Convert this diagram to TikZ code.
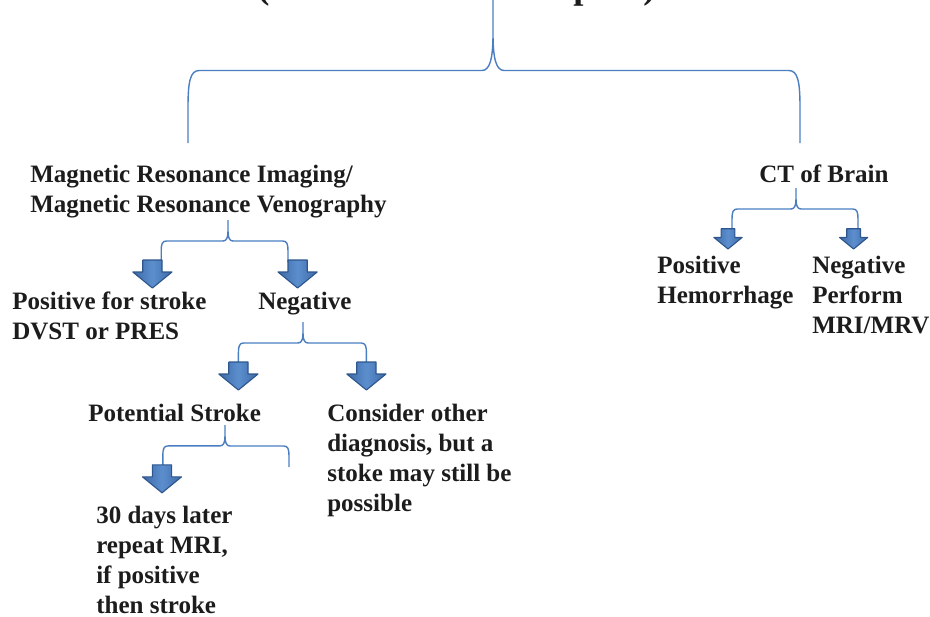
\documentclass[tikz,border=0pt]{standalone}
\usepackage{fontspec}
\setmainfont{Liberation Serif}
\usepackage{xcolor}
\usepackage{tikz}
\usetikzlibrary{
  calc
}
\definecolor{braceblue}{RGB}{74,126,193}
\definecolor{arrowlight}{RGB}{92,142,206}
\definecolor{arrowdark}{RGB}{62,106,166}
\definecolor{arrowline}{RGB}{46,86,140}
\definecolor{inkgray}{RGB}{28,28,28}

\begin{document}
\begin{tikzpicture}[
  font=\fontsize{17.8pt}{21.3pt}\selectfont\bfseries,
  txt/.style={anchor=base west, inner sep=0pt, align=left, text=inkgray},
  title/.style={txt, font=\fontsize{26pt}{30pt}\selectfont\bfseries},
  blk/.style={draw=arrowline, line width=0.8pt, line join=round,
              left color=arrowdark, right color=arrowdark, middle color=arrowlight},
  darrow/.pic={
    \coordinate (-top) at (0,0);
    \path[blk] (-0.24,0) -- (0.24,0) -- (0.24,-0.3) -- (0.49,-0.3)
      -- (0,-0.7) -- (-0.49,-0.3) -- (-0.24,-0.3) -- cycle;
  },
  brace/.style={draw=braceblue, line width=1pt},
  hb/.style 2 args={to path={let \p1=(\tikztostart), \p2=(\tikztotarget),
      \n1={sign(\x2-\x1)} in
      -- ({\x1},{\y1/2+\y2/2+#2})
      .. controls ({\x1},{\y1/2+\y2/2+0.3*#2}) and ({\x1+0.3*\n1*#1},{\y1/2+\y2/2})
      .. ({\x1+\n1*#1},{\y1/2+\y2/2})
      -- ({\x2-\n1*#1},{\y1/2+\y2/2})
      .. controls ({\x2-0.2*\n1*#1},{\y1/2+\y2/2}) and ({\x2},{\y1/2+\y2/2-0.3*#2})
      .. ({\x2},{\y1/2+\y2/2-#2})
      -- (\p2)}},
]
  \useasboundingbox (0,0) rectangle (23.25,-15.4);
  \clip (0,0) rectangle (23.25,-15.4);

  % heading, cut by the top edge
  \node[title] (tOpen) at (6.43,0.05) {(};
  \node[title] (tP) at (14.33,0.05) {p};
  \node[title] (tClose) at (16.08,0.05) {)};

  % main split
  \coordinate (topC) at (12.325,0.05);
  \coordinate (mriIn) at (4.7,-3.575);
  \coordinate (ctIn) at (20.0,-3.575);
  \draw[brace] (topC) to[hb={0.28cm}{0.92cm}] (mriIn)
               (topC) to[hb={0.28cm}{0.92cm}] (ctIn);

  % MRI / MRV branch
  \node[txt] (mri) at (0.75,-5.3)
    {Magnetic Resonance Imaging/\\Magnetic Resonance Venography};
  \coordinate (mriC) at (5.7,-5.5);
  \draw[brace] (mriC) to[hb={0.13cm}{0.25cm}] (4.03,-6.55)
               (mriC) to[hb={0.13cm}{0.25cm}] (7.2,-6.55);
  \pic (aPos) at (3.81,-6.5) {darrow};
  \pic (aNeg) at (7.44,-6.5) {darrow};
  \node[txt] (posStroke) at (0.30,-8.475) {Positive for stroke\\DVST or PRES};
  \node[txt] (neg) at (6.45,-7.725) {Negative};

  \coordinate (negC) at (7.575,-8.05);
  \draw[brace] (negC) to[hb={0.13cm}{0.25cm}] (5.96,-9.1)
               (negC) to[hb={0.13cm}{0.25cm}] (9.16,-9.1);
  \pic (aPot) at (5.96,-9.05) {darrow};
  \pic (aCon) at (9.16,-9.05) {darrow};
  \node[txt] (pot) at (2.2,-10.525) {Potential Stroke};
  \node[txt] (other) at (8.175,-12.775)
    {Consider other\\diagnosis, but a\\stoke may still be\\possible};

  \coordinate (potC) at (5.625,-10.625);
  \coordinate (potEnd) at (7.225,-11.675);
  \draw[brace] (potC) to[hb={0.13cm}{0.25cm}] (4.07,-11.67)
               (potC) to[hb={0.13cm}{0.25cm}] (potEnd);
  \pic (a30) at (4.05,-11.62) {darrow};
  \node[txt] (later) at (2.4,-15.325)
    {30 days later\\repeat MRI,\\if positive\\then stroke};

  % CT branch
  \node[txt] (ct) at (18.975,-4.55) {CT of Brain};
  \coordinate (ctC) at (19.9,-4.7);
  \draw[brace] (ctC) to[hb={0.13cm}{0.25cm}] (18.3,-5.75)
               (ctC) to[hb={0.13cm}{0.25cm}] (21.45,-5.75);
  \pic[scale=0.72] (aHem) at (18.2,-5.72) {darrow};
  \pic[scale=0.72] (aMrv) at (21.34,-5.72) {darrow};
  \node[txt] (hem) at (16.425,-7.575) {Positive\\Hemorrhage};
  \node[txt] (mrv) at (20.3,-8.325) {Negative\\Perform\\MRI/MRV};
\end{tikzpicture}
\end{document}
